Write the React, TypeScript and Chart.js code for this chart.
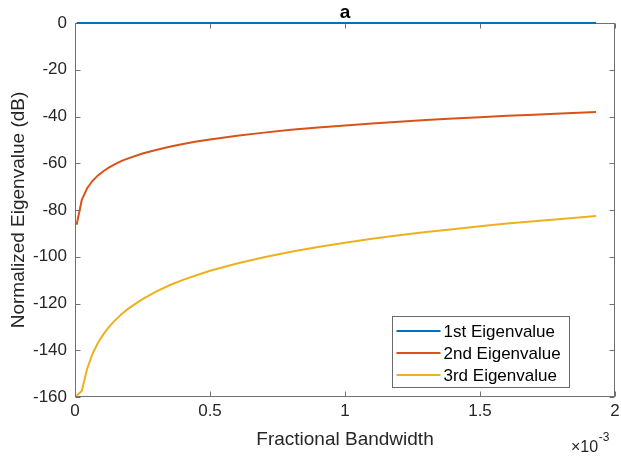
import React, { useEffect, useRef } from "react";
import { Chart, registerables } from "chart.js";

Chart.register(...registerables);

// Fractional bandwidth (×10^-3)
const fractionalBandwidth = [
  0.006, 0.025, 0.045, 0.065, 0.085, 0.105, 0.125, 0.15, 0.175, 0.2, 0.25, 0.3,
  0.35, 0.4, 0.45, 0.5, 0.6, 0.7, 0.8, 0.9, 1.0, 1.1, 1.2, 1.3, 1.4, 1.5, 1.6,
  1.7, 1.8, 1.93,
];
const eig1 = [
  0, 0, 0, 0, 0, 0, 0, 0, 0, 0, 0, 0, 0, 0, 0, 0, 0, 0, 0, 0, 0, 0, 0, 0, 0, 0,
  0, 0, 0, 0,
];
const eig2 = [
  -86.3, -75.7, -70.7, -67.5, -65.2, -63.4, -61.9, -60.3, -58.9, -57.8, -55.8,
  -54.3, -52.9, -51.8, -50.7, -49.8, -48.2, -46.9, -45.7, -44.7, -43.8, -43.0,
  -42.2, -41.5, -40.9, -40.3, -39.7, -39.2, -38.7, -38.1,
];
const eig3 = [
  -159.5, -157.4, -147.9, -141.5, -136.8, -133.2, -130.1, -127.0, -124.3,
  -122.0, -118.1, -114.9, -112.2, -109.9, -107.9, -106.0, -102.9, -100.2, -97.9,
  -95.8, -94.0, -92.3, -90.8, -89.4, -88.2, -87.0, -85.8, -84.8, -83.8, -82.6,
];
const seriesLabels = ["1st Eigenvalue", "2nd Eigenvalue", "3rd Eigenvalue"];
const seriesColors = ["#0072BD", "#D95319", "#EDB120"];
const xTickLabels = ["0", "0.5", "1", "1.5", "2"];
const yTicks = [0, -20, -40, -60, -80, -100, -120, -140, -160];

const FONT = "Arial, 'Liberation Sans', Helvetica, sans-serif";
const AXIS_COLOR = "#707070";
const TEXT_COLOR = "#262626";

const matlabPlugin = {
  id: "matlabAxes",
  beforeDatasetsDraw(chart: any) {
    const { ctx, chartArea } = chart;
    const { left, right, top, bottom } = chartArea;
    ctx.save();
    ctx.strokeStyle = AXIS_COLOR;
    ctx.lineWidth = 1;
    const L = Math.round(left) + 0.5;
    const R = Math.round(right) - 0.5;
    const T = Math.round(top) + 0.5;
    const B = Math.round(bottom) - 0.5;
    ctx.strokeRect(L, T, R - L, B - T);
    const tl = 5;
    ctx.beginPath();
    const xs = chart.scales.x;
    xs.ticks.forEach((t: any) => {
      const px = Math.round(xs.getPixelForValue(t.value)) + 0.5;
      ctx.moveTo(px, B);
      ctx.lineTo(px, B - tl);
      ctx.moveTo(px, T);
      ctx.lineTo(px, T + tl);
    });
    const ys = chart.scales.y;
    ys.ticks.forEach((t: any) => {
      const py = Math.round(ys.getPixelForValue(t.value)) + 0.5;
      ctx.moveTo(L, py);
      ctx.lineTo(L + tl, py);
      ctx.moveTo(R, py);
      ctx.lineTo(R - tl, py);
    });
    ctx.stroke();
    ctx.restore();
  },
  afterDraw(chart: any) {
    const { ctx, chartArea } = chart;
    ctx.save();
    // Legend
    const w = 177;
    const h = 71;
    const x0 = Math.round(chartArea.right - 46 - w) + 0.5;
    const y0 = Math.round(chartArea.bottom - 10 - h) + 0.5;
    ctx.fillStyle = "#ffffff";
    ctx.fillRect(x0, y0, w, h);
    ctx.strokeStyle = "#6a6a6a";
    ctx.lineWidth = 1;
    ctx.strokeRect(x0, y0, w, h);
    ctx.font = `17px ${FONT}`;
    ctx.textBaseline = "middle";
    ctx.textAlign = "left";
    chart.data.datasets.forEach((ds: any, i: number) => {
      const yy = y0 + 14.5 + 22 * i;
      ctx.strokeStyle = ds.borderColor;
      ctx.lineWidth = 2;
      ctx.beginPath();
      ctx.moveTo(x0 + 4, yy);
      ctx.lineTo(x0 + 48, yy);
      ctx.stroke();
      ctx.fillStyle = "#000000";
      ctx.fillText(ds.label, x0 + 51, yy + 1);
    });
    // Exponent label
    ctx.fillStyle = TEXT_COLOR;
    ctx.textBaseline = "alphabetic";
    ctx.font = `16px ${FONT}`;
    const base = "\u00d710";
    const bx = chartArea.right - 44;
    ctx.fillText(base, bx, 452);
    const bw = ctx.measureText(base).width;
    ctx.font = `12px ${FONT}`;
    ctx.fillText("-3", bx + bw + 0.5, 441);
    ctx.restore();
  },
};

export default function App() {
  const canvasRef = useRef<HTMLCanvasElement | null>(null);

  useEffect(() => {
    if (!canvasRef.current) return;
    const allSeries = [eig1, eig2, eig3];
    const chart = new Chart(canvasRef.current, {
      type: "line",
      data: {
        datasets: allSeries.map((s, i) => ({
          label: seriesLabels[i],
          data: fractionalBandwidth.map((x, j) => ({ x, y: s[j] })),
          borderColor: seriesColors[i],
          backgroundColor: seriesColors[i],
          borderWidth: 2,
          pointRadius: 0,
          tension: 0,
          fill: false,
          clip: 4,
        })),
      },
      options: {
        animation: false,
        responsive: false,
        devicePixelRatio: 1,
        layout: { padding: { left: 0, right: 6, top: 0, bottom: 0 } },
        plugins: {
          legend: { display: false },
          tooltip: { enabled: false },
          title: {
            display: true,
            text: "a",
            fullSize: false,
            color: "#000000",
            font: { size: 19, weight: "bold", family: FONT, lineHeight: 1 },
            padding: { top: 3.5, bottom: 0.5 },
          },
        },
        scales: {
          x: {
            type: "linear",
            min: 0,
            max: 2,
            grid: { display: false, drawTicks: false },
            border: { display: false },
            afterFit: (scale: any) => {
              scale.height = 60;
              scale.paddingLeft = 0;
              scale.paddingRight = 0;
            },
            afterBuildTicks: (scale: any) => {
              scale.ticks = xTickLabels.map((l) => ({ value: parseFloat(l) }));
            },
            ticks: {
              padding: 4,
              color: TEXT_COLOR,
              font: { size: 17, family: FONT },
              maxRotation: 0,
              callback: (v: any) => {
                const idx = xTickLabels.findIndex((l) => parseFloat(l) === v);
                return idx >= 0 ? xTickLabels[idx] : "";
              },
            },
            title: {
              display: true,
              text: "Fractional Bandwidth",
              color: TEXT_COLOR,
              font: { size: 19, family: FONT },
              padding: { top: 0, bottom: 6 },
            },
          },
          y: {
            type: "linear",
            min: -160,
            max: 0,
            grid: { display: false, drawTicks: false },
            border: { display: false },
            afterFit: (scale: any) => {
              scale.width = 75;
              scale.paddingTop = 0;
              scale.paddingBottom = 0;
            },
            afterBuildTicks: (scale: any) => {
              scale.ticks = yTicks.map((v) => ({ value: v }));
            },
            ticks: {
              padding: 8,
              color: TEXT_COLOR,
              font: { size: 17, family: FONT },
              callback: (v: any) => String(v),
            },
            title: {
              display: true,
              text: "Normalized Eigenvalue (dB)",
              color: TEXT_COLOR,
              font: { size: 19, family: FONT },
              padding: { top: 7, bottom: 0 },
            },
          },
        },
      },
      plugins: [matlabPlugin],
    } as any);
    return () => chart.destroy();
  }, []);

  return (
    <div style={{ position: "fixed", left: 0, top: 0, width: 621, height: 457, background: "#ffffff" }}>
      <canvas ref={canvasRef} width={621} height={457} style={{ display: "block" }} />
    </div>
  );
}
